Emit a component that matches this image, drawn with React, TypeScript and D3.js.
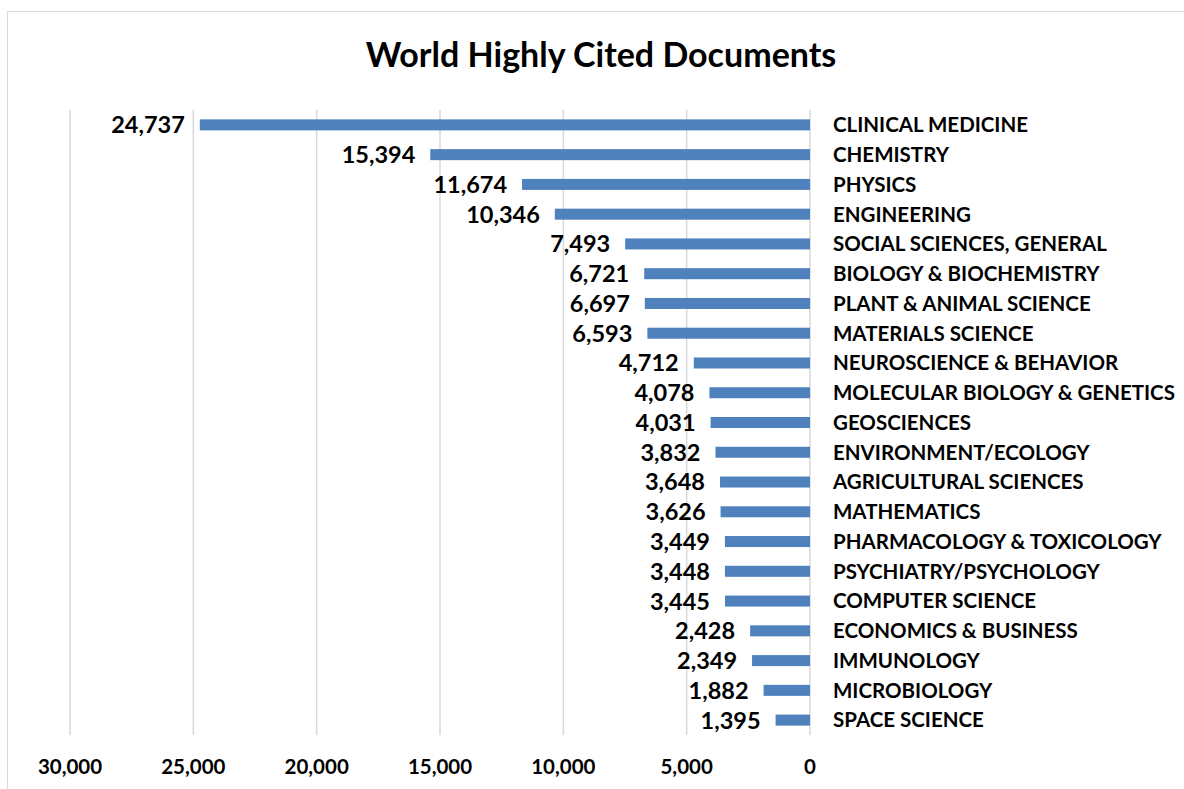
import React from "react";
import * as d3 from "d3";

const categories = [
  "CLINICAL MEDICINE",
  "CHEMISTRY",
  "PHYSICS",
  "ENGINEERING",
  "SOCIAL SCIENCES, GENERAL",
  "BIOLOGY & BIOCHEMISTRY",
  "PLANT & ANIMAL SCIENCE",
  "MATERIALS SCIENCE",
  "NEUROSCIENCE & BEHAVIOR",
  "MOLECULAR BIOLOGY & GENETICS",
  "GEOSCIENCES",
  "ENVIRONMENT/ECOLOGY",
  "AGRICULTURAL SCIENCES",
  "MATHEMATICS",
  "PHARMACOLOGY & TOXICOLOGY",
  "PSYCHIATRY/PSYCHOLOGY",
  "COMPUTER SCIENCE",
  "ECONOMICS & BUSINESS",
  "IMMUNOLOGY",
  "MICROBIOLOGY",
  "SPACE SCIENCE",
];

const documents = [
  24737, 15394, 11674, 10346, 7493, 6721, 6697, 6593, 4712, 4078, 4031, 3832,
  3648, 3626, 3449, 3448, 3445, 2428, 2349, 1882, 1395,
];

const xTicks = [30000, 25000, 20000, 15000, 10000, 5000, 0];

const FONT = "Lato, 'Open Sans', sans-serif";
const BAR = "#4F81BD";

export default function App() {
  const width = 1184;
  const height = 789;

  // Reversed axis: zero sits on the right, bars grow leftwards
  const x = d3.scaleLinear().domain([0, 30000]).range([810, 70]);
  const y = d3.scaleBand<string>().domain(categories).range([110, 735]).paddingInner(0.63).paddingOuter(0.315);
  const fmt = d3.format(",");

  return (
    <svg
      width={width}
      height={height}
      style={{ position: "absolute", left: 0, top: 0, background: "#fff" }}
    >
      <rect x={7.5} y={11.5} width={1200} height={800} fill="#fff" stroke="#d9d9d9" strokeWidth={1} />
      <text
        x={601}
        y={67}
        textAnchor="middle"
        fontFamily={FONT}
        fontWeight={700}
        fontSize={34}
        fill="#000"
      >
        World Highly Cited Documents
      </text>

      {xTicks.map((t) => (
        <g key={t}>
          <line x1={x(t)} x2={x(t)} y1={110} y2={735} stroke="#d9d9d9" strokeWidth={1.5} />
          <text
            x={x(t)}
            y={774}
            textAnchor="middle"
            fontFamily={FONT}
            fontWeight={700}
            fontSize={20.5}
            fill="#000"
          >
            {fmt(t)}
          </text>
        </g>
      ))}

      {categories.map((c, i) => {
        const v = documents[i];
        const y0 = y(c)!;
        const cy = y0 + y.bandwidth() / 2;
        return (
          <g key={c}>
            <rect x={x(v)} y={y0} width={x(0) - x(v)} height={y.bandwidth()} fill={BAR} />
            <text
              x={x(v) - 15}
              y={cy}
              dy="0.36em"
              textAnchor="end"
              fontFamily={FONT}
              fontWeight={700}
              fontSize={23.5}
              fill="#000"
            >
              {fmt(v)}
            </text>
            <text
              x={833}
              y={cy}
              dy="0.36em"
              fontFamily={FONT}
              fontWeight={700}
              fontSize={20.5}
              fill="#000"
            >
              {c}
            </text>
          </g>
        );
      })}
    </svg>
  );
}
